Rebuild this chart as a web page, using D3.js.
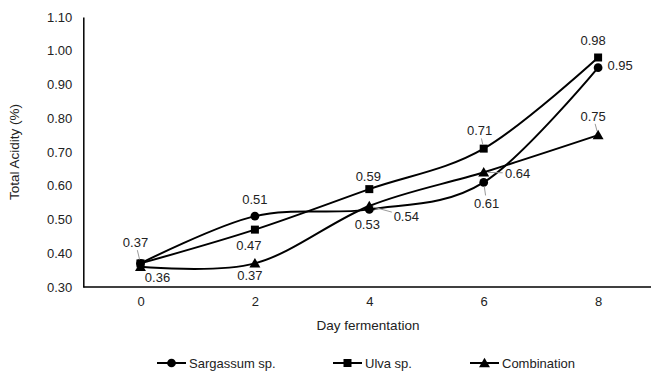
<!DOCTYPE html>
<html>
<head>
<meta charset="utf-8">
<script src="https://cdn.jsdelivr.net/npm/d3@7"></script>
<style>
  body { margin: 0; background: #fff; }
  svg { display: block; font-family: "Liberation Sans", Arial, sans-serif; }
  .axis text { font-size: 13px; fill: #222; }
  .axis path { stroke: #000; stroke-width: 1.5px; }
</style>
</head>
<body>
<div id="chart"></div>
<script>
// data
const days = ['0', '2', '4', '6', '8'];
const sargassum = [0.37, 0.51, 0.53, 0.61, 0.95];
const ulva = [0.37, 0.47, 0.59, 0.71, 0.98];
const combination = [0.36, 0.37, 0.54, 0.64, 0.75];
const seriesNames = ['Sargassum sp.', 'Ulva sp.', 'Combination'];
const yTicks = [0.30, 0.40, 0.50, 0.60, 0.70, 0.80, 0.90, 1.00, 1.10];

// label placement per point: [dx, dy, leader?] (null = no label)
const labelPos = [
    [null, [0, -17], [-2, 15], [3, 21, 1], [22, -2]],
    [[-5, -21, 1], [-6, 16], [-1, -13], [-4, -18, 1], [-5, -17]],
    [[17, 11], [-5, 12], [37, 10, 1], [34, 1, 1], [-5, -19, 1]]
];

const width = 651, height = 371;
const svg = d3.select('#chart').append('svg')
    .attr('width', width)
    .attr('height', height);

const x = d3.scalePoint()
    .domain(days)
    .range([83.3, 655.3])
    .padding(0.5);

const y = d3.scaleLinear()
    .domain([0.30, 1.10])
    .range([287, 17]);

// axes
svg.append('g')
    .attr('class', 'axis')
    .attr('transform', 'translate(83.3,0)')
    .call(d3.axisLeft(y).tickValues(yTicks).tickFormat(d3.format('.2f')).tickSize(0).tickPadding(11));

svg.append('g')
    .attr('class', 'axis')
    .attr('transform', 'translate(0,287)')
    .call(d3.axisBottom(x).tickSize(0).tickPadding(10))
    .select('.domain').attr('d', 'M83.3,0H655');

svg.append('text')
    .attr('x', 368)
    .attr('y', 330)
    .attr('text-anchor', 'middle')
    .attr('font-size', 13.5)
    .attr('fill', '#222')
    .text('Day fermentation');

svg.append('text')
    .attr('transform', 'translate(19,152) rotate(-90)')
    .attr('text-anchor', 'middle')
    .attr('font-size', 13.5)
    .attr('fill', '#222')
    .text('Total Acidity (%)');

const series = [sargassum, ulva, combination];
const symbols = [d3.symbolCircle, d3.symbolSquare, d3.symbolTriangle];
const symSizes = [60, 64, 52];

const line = d3.line()
    .x((d, i) => x(days[i]))
    .y(d => y(d))
    .curve(d3.curveCardinal.tension(0));

const plot = svg.append('g');

series.forEach((vals, s) => {
    plot.append('path')
        .datum(vals)
        .attr('d', line)
        .attr('fill', 'none')
        .attr('stroke', '#000')
        .attr('stroke-width', 2);
});

series.forEach((vals, s) => {
    plot.selectAll(null)
        .data(vals)
        .enter()
        .append('path')
        .attr('transform', (d, i) => `translate(${x(days[i])},${y(d) + (s === 2 ? 1 : 0)})`)
        .attr('d', d3.symbol().type(symbols[s]).size(symSizes[s]))
        .attr('fill', '#000');
});

// data labels
const labels = svg.append('g');
series.forEach((vals, s) => {
    vals.forEach((v, i) => {
        const p = labelPos[s][i];
        if (!p) return;
        const px = x(days[i]), py = y(v);
        const lx = px + p[0], ly = py + p[1];
        if (p[2]) {
            // leader line toward the point
            const ang = Math.atan2(py - ly, px - lx);
            const start = Math.abs(p[0]) > Math.abs(p[1]) ? 15 : 8;
            labels.append('line')
                .attr('x1', lx + Math.cos(ang) * start)
                .attr('y1', ly + Math.sin(ang) * start)
                .attr('x2', px - Math.cos(ang) * 4)
                .attr('y2', py - Math.sin(ang) * 4)
                .attr('stroke', '#999')
                .attr('stroke-width', 1);
        }
        labels.append('text')
            .attr('x', lx)
            .attr('y', ly)
            .attr('dy', '0.35em')
            .attr('text-anchor', 'middle')
            .attr('font-size', 13)
            .attr('fill', '#222')
            .text(d3.format('.2f')(v));
    });
});

// legend
const legendX = [157, 333, 470];
const legend = svg.append('g').attr('transform', 'translate(0,363)');
seriesNames.forEach((name, s) => {
    const g = legend.append('g').attr('transform', `translate(${legendX[s]},0)`);
    g.append('line')
        .attr('x1', 0).attr('x2', 29)
        .attr('stroke', '#000').attr('stroke-width', 2);
    g.append('path')
        .attr('transform', `translate(14.5,${s === 2 ? 1 : 0})`)
        .attr('d', d3.symbol().type(symbols[s]).size(symSizes[s]))
        .attr('fill', '#000');
    g.append('text')
        .attr('x', 32)
        .attr('dy', '0.35em')
        .attr('font-size', 13)
        .attr('fill', '#222')
        .text(name);
});
</script>
</body>
</html>
